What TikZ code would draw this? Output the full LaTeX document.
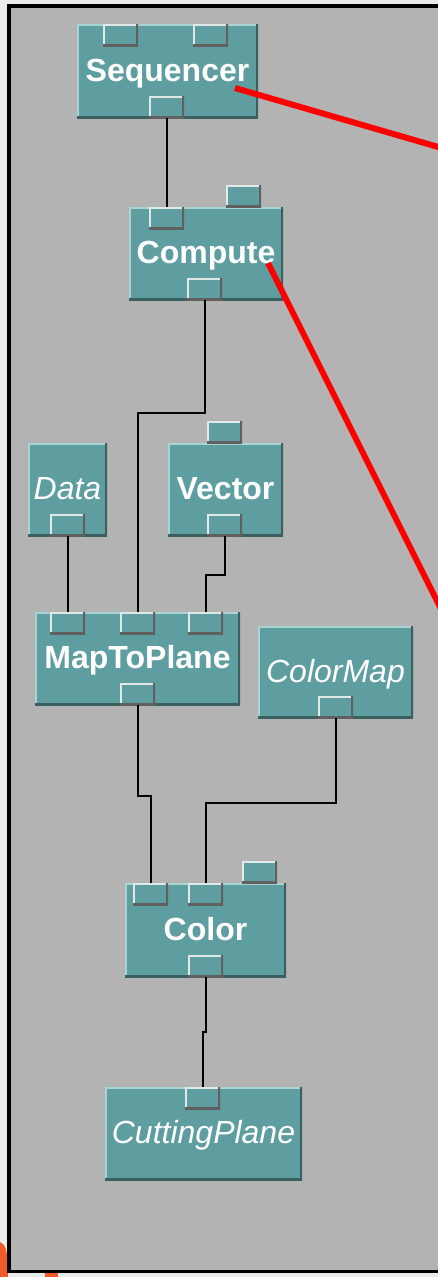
\documentclass[tikz,border=0pt]{standalone}
\usepackage{fontspec}
\newfontfamily\modfont{Liberation Sans}

\definecolor{cadet}{RGB}{95,158,160}
\definecolor{modlight}{RGB}{168,212,212}
\definecolor{moddark}{RGB}{58,95,95}
\definecolor{portlight}{RGB}{224,232,232}
\definecolor{portdark}{RGB}{96,96,96}
\definecolor{panel}{RGB}{179,179,179}
\definecolor{outside}{RGB}{235,235,235}
\definecolor{signorange}{RGB}{240,90,40}

\begin{document}
\begin{tikzpicture}[
    x=1pt, y=-1pt,
    bevel/.style 2 args={path picture={
        \draw[#1, line width=3pt] (path picture bounding box.south west) -- (path picture bounding box.north west) -- (path picture bounding box.north east);
        \draw[#2, line width=4pt] (path picture bounding box.north east) -- (path picture bounding box.south east) -- (path picture bounding box.south west);
    }},
    module/.style={fill=cadet, inner sep=0pt, text=white, text height=20pt, text depth=0pt, bevel={modlight}{moddark}},
    tool/.style={module, font=\modfont\bfseries\fontsize{32}{36}\selectfont},
    input/.style={module, font=\modfont\itshape\fontsize{32}{36}\selectfont},
    port/.style={fill=cadet, minimum width=35pt, minimum height=22pt, inner sep=0pt, bevel={portlight}{portdark}},
    wire/.style={line width=2pt},
    redline/.style={red, line width=6pt}
]

% ==================== CANVAS ====================
\clip (0,0) rectangle (438,1277);
\fill[outside] (0,0) rectangle (438,1277);
\fill[signorange] (0,1242) .. controls (6,1244) and (8,1252) .. (8,1277) -- (0,1277) -- cycle;
\fill[signorange] (45,1271) rectangle (58,1277);
\fill[black] (7,4) rectangle (460,1273);
\fill[panel] (10.5,7.5) rectangle (460,1270);

% ==================== MODULES ====================
\node[tool, minimum width=181pt, minimum height=94pt] (seq) at (167.5,71) {Sequencer};
\node[tool, minimum width=154pt, minimum height=93pt] (cmp) at (206,253.5) {Compute};
\node[input, minimum width=79pt, minimum height=93pt] (data) at (67.5,489.5) {Data};
\node[tool, minimum width=115pt, minimum height=93pt] (vec) at (225.5,489.5) {Vector};
\node[tool, minimum width=205pt, minimum height=93pt] (map) at (137.5,658.5) {MapToPlane};
\node[input, minimum width=155pt, minimum height=92pt] (cmap) at (335.5,672) {ColorMap};
\node[tool, minimum width=161pt, minimum height=94pt] (col) at (205.5,930) {Color};
\node[input, minimum width=197pt, minimum height=93pt] (cut) at (203.5,1133.5) {CuttingPlane};

% ==================== PORTS ====================
% Sequencer
\node[port] (seq-in1) at (120.5,35) {};
\node[port] (seq-in2) at (210.5,35) {};
\node[port] (seq-out) at (166.5,107) {};
% Compute
\node[port] (cmp-in) at (166.5,218) {};
\node[port] (cmp-aux) at (243.5,196) {};
\node[port] (cmp-out) at (204.5,289) {};
% Data and Vector
\node[port] (data-out) at (67.5,525) {};
\node[port] (vec-aux) at (224.5,432) {};
\node[port] (vec-out) at (224.5,525) {};
% MapToPlane
\node[port] (map-in1) at (67.5,623) {};
\node[port] (map-in2) at (137.5,623) {};
\node[port] (map-in3) at (205.5,623) {};
\node[port] (map-out) at (137.5,694) {};
% ColorMap
\node[port] (cmap-out) at (335.5,707) {};
% Color
\node[port] (col-in1) at (150.5,894) {};
\node[port] (col-in2) at (205.5,894) {};
\node[port] (col-aux) at (259.5,872) {};
\node[port] (col-out) at (205.5,966) {};
% CuttingPlane
\node[port] (cut-in) at (202.5,1098) {};

% ==================== WIRES ====================
\draw[wire] (seq-out.south) -- (cmp-in.north);
\draw[wire] (cmp-out.south) -- ++(0,113) -| (map-in2.north);
\draw[wire] (data-out.south) -- (map-in1.north);
\draw[wire] (vec-out.south) -- ++(0,39) -| (map-in3.north);
\draw[wire] (map-out.south) -- ++(0,91) -| (col-in1.north);
\draw[wire] (cmap-out.south) -- ++(0,85) -| (col-in2.north);
\draw[wire] (col-out.south) -- ++(0,55) -| (cut-in.north);

% ==================== RED POINTERS ====================
\coordinate (seq-tip) at (235,88);
\coordinate (seq-far) at (452,151);
\coordinate (cmp-tip) at (268,263);
\coordinate (cmp-far) at (446,619);
\draw[redline] (seq-tip) -- (seq-far);
\draw[redline] (cmp-tip) -- (cmp-far);

\end{tikzpicture}
\end{document}
